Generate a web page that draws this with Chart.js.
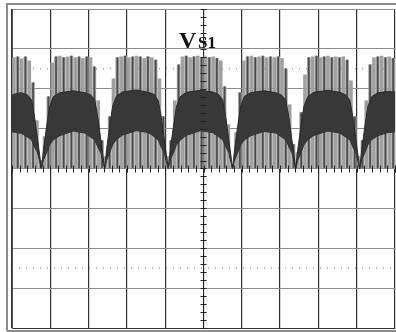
<!DOCTYPE html>
<html>
<head>
<meta charset="utf-8">
<script src="https://cdn.jsdelivr.net/npm/chart.js@4.4.0/dist/chart.umd.min.js"></script>
<style>
  html, body { margin: 0; padding: 0; background: #fff; }
  #wrap { position: relative; width: 396px; height: 332px; }
</style>
</head>
<body>
<div id="wrap"><canvas id="scope" width="396" height="332"></canvas></div>
<script>
// screen is 10 x 8 divisions, x = time (div), y = volts (div), 0 at centre
const xDivs = [0, 10];
const yDivs = [-4, 4];

// switching pulse tops, one pulse every 0.1 div
const pulseStep = 0.1;
const pulseTops = [
  2.78, 2.80, 2.75, 2.80, 2.70, 2.15, 1.20, 0.20, 0.80, 1.80,
  2.65, 2.80, 2.82, 2.78, 2.80, 2.82, 2.78, 2.80, 2.76, 2.80,
  2.78, 2.55, 1.70, 0.70, 0.30, 1.30, 2.25, 2.78, 2.80, 2.82,
  2.78, 2.80, 2.82, 2.80, 2.76, 2.80, 2.78, 2.72, 2.25, 1.30,
  0.30, 0.70, 1.70, 2.60, 2.80, 2.82, 2.78, 2.80, 2.82, 2.78,
  2.80, 2.78, 2.80, 2.76, 2.70, 2.05, 1.10, 0.10, 0.90, 1.90,
  2.70, 2.80, 2.82, 2.78, 2.80, 2.82, 2.78, 2.80, 2.78, 2.80,
  2.76, 2.50, 1.60, 0.60, 0.40, 1.40, 2.35, 2.78, 2.80, 2.82,
  2.78, 2.80, 2.82, 2.78, 2.80, 2.78, 2.80, 2.72, 2.20, 1.30,
  0.30, 0.70, 1.70, 2.60, 2.78, 2.80, 2.82, 2.78, 2.80, 2.76
];

// dense dark band (envelope of the overlapping pulses)
const bandX = [
  0.00, 0.12, 0.25, 0.40, 0.51, 0.59, 0.67, 0.74, 0.77,
  0.82, 0.90, 0.98, 1.08, 1.24, 1.60, 1.90, 2.05, 2.16, 2.24, 2.32, 2.39, 2.42,
  2.47, 2.55, 2.63, 2.73, 2.89, 3.25, 3.56, 3.71, 3.82, 3.90, 3.98, 4.05, 4.08,
  4.13, 4.21, 4.29, 4.39, 4.55, 4.92, 5.24, 5.39, 5.50, 5.58, 5.66, 5.73, 5.76,
  5.81, 5.89, 5.97, 6.07, 6.23, 6.58, 6.89, 7.04, 7.15, 7.23, 7.31, 7.38, 7.41,
  7.46, 7.54, 7.62, 7.72, 7.88, 8.25, 8.56, 8.71, 8.82, 8.90, 8.98, 9.05, 9.08,
  9.13, 9.21, 9.29, 9.39, 9.55, 9.80, 10.0
];
const bandTop = [
  1.84, 1.88, 1.90, 1.85, 1.72, 1.29, 0.72, 0.21, 0.00,
  0.46, 1.04, 1.55, 1.80, 1.90, 1.95, 1.90, 1.85, 1.72, 1.29, 0.72, 0.21, 0.00,
  0.48, 1.06, 1.57, 1.82, 1.92, 1.97, 1.91, 1.86, 1.70, 1.27, 0.70, 0.20, 0.00,
  0.45, 1.02, 1.54, 1.80, 1.91, 1.96, 1.92, 1.86, 1.73, 1.30, 0.73, 0.22, 0.00,
  0.47, 1.05, 1.56, 1.81, 1.90, 1.95, 1.90, 1.84, 1.71, 1.28, 0.71, 0.21, 0.00,
  0.46, 1.04, 1.55, 1.80, 1.91, 1.96, 1.91, 1.85, 1.72, 1.29, 0.72, 0.21, 0.00,
  0.46, 1.04, 1.55, 1.80, 1.90, 1.93, 1.92
];
const bandBottom = [
  0.92, 0.90, 0.88, 0.79, 0.72, 0.54, 0.39, 0.10, 0.00,
  0.21, 0.39, 0.59, 0.72, 0.82, 0.94, 0.89, 0.79, 0.72, 0.54, 0.39, 0.10, 0.00,
  0.20, 0.40, 0.60, 0.73, 0.84, 0.95, 0.90, 0.80, 0.71, 0.53, 0.38, 0.10, 0.00,
  0.22, 0.38, 0.58, 0.71, 0.83, 0.95, 0.90, 0.80, 0.72, 0.55, 0.40, 0.10, 0.00,
  0.21, 0.39, 0.59, 0.72, 0.82, 0.93, 0.89, 0.79, 0.72, 0.54, 0.39, 0.10, 0.00,
  0.21, 0.39, 0.59, 0.72, 0.83, 0.94, 0.89, 0.79, 0.72, 0.54, 0.39, 0.10, 0.00,
  0.21, 0.39, 0.59, 0.72, 0.82, 0.90, 0.92
];

// dotted cursor levels
const cursorLevels = [2.5, -2.5];

const pulses = pulseTops.map((top, i) => ({ x: pulseStep * (i + 0.5), y: [0, top] }));
const darkPulses = pulses.filter((p, i) => i % 2 === 1);

const scopeDecor = {
  id: "scopeDecor",
  afterDraw(chart) {
    const ctx = chart.ctx;
    const xs = chart.scales.x;
    const ys = chart.scales.y;
    const cx = xs.getPixelForValue(5);
    const cy = ys.getPixelForValue(0);
    ctx.save();

    // outer bezel
    ctx.strokeStyle = "#8a8a8a";
    ctx.lineWidth = 2;
    ctx.beginPath();
    ctx.moveTo(7, 331);
    ctx.lineTo(7, 4);
    ctx.lineTo(396, 4);
    ctx.moveTo(7, 331);
    ctx.lineTo(396, 331);
    ctx.stroke();

    // minor ticks on the centre axes
    ctx.strokeStyle = "#222";
    ctx.lineWidth = 1;
    ctx.beginPath();
    for (let v = -4; v <= 4.001; v += 0.2) {
      const y = Math.round(ys.getPixelForValue(v)) + 0.5;
      ctx.moveTo(cx - 3, y);
      ctx.lineTo(cx + 3, y);
    }
    for (let v = 0; v <= 10.001; v += 0.2) {
      const x = Math.round(xs.getPixelForValue(v)) + 0.5;
      ctx.moveTo(x, cy - 3);
      ctx.lineTo(x, cy + 4);
    }
    ctx.stroke();

    // channel label
    ctx.fillStyle = "#111";
    ctx.textBaseline = "alphabetic";
    ctx.font = "bold 24px 'Liberation Serif'";
    ctx.fillText("V", 179, 48);
    ctx.font = "bold 17px 'Liberation Serif'";
    ctx.fillText("S1", 198, 48);
    ctx.restore();
  },
};

new Chart(document.getElementById("scope"), {
  type: "bar",
  data: {
    datasets: [
      {
        type: "bar",
        data: pulses,
        backgroundColor: "#a0a0a0",
        barThickness: 3,
        grouped: false,
        order: 3,
      },
      {
        type: "bar",
        data: darkPulses,
        backgroundColor: "#4a4a4a",
        barThickness: 1,
        grouped: false,
        order: 2,
      },
      {
        type: "line",
        data: bandX.map((x, i) => ({ x: x, y: bandTop[i] })),
        borderColor: "#2a2a2a",
        backgroundColor: "#383838",
        borderWidth: 1,
        pointRadius: 0,
        fill: "+1",
        order: 1,
      },
      {
        type: "line",
        data: bandX.map((x, i) => ({ x: x, y: bandBottom[i] })),
        borderColor: "#2a2a2a",
        borderWidth: 1,
        pointRadius: 0,
        fill: false,
        order: 1,
      },
      ...cursorLevels.map((lvl) => ({
        type: "line",
        data: xDivs.map((x) => ({ x: x, y: lvl })),
        borderColor: "#777",
        borderWidth: 1,
        borderDash: [1, 6],
        pointRadius: 0,
        fill: false,
        order: 5,
      })),
    ],
  },
  options: {
    responsive: false,
    animation: false,
    devicePixelRatio: 1,
    layout: { padding: { left: 12, top: 9, right: 1, bottom: 4 } },
    plugins: { legend: { display: false }, tooltip: { enabled: false } },
    scales: {
      x: {
        type: "linear",
        min: xDivs[0],
        max: xDivs[1],
        offset: false,
        z: 1,
        ticks: { display: false, stepSize: 1 },
        grid: { color: "#303030", lineWidth: 1.2, drawTicks: false, offset: false },
        border: { color: "#303030" },
      },
      y: {
        min: yDivs[0],
        max: yDivs[1],
        z: 1,
        ticks: { display: false, stepSize: 1 },
        grid: { color: "#8c8c8c", drawTicks: false },
        border: { color: "#555" },
      },
    },
  },
  plugins: [scopeDecor],
});
</script>
</body>
</html>
